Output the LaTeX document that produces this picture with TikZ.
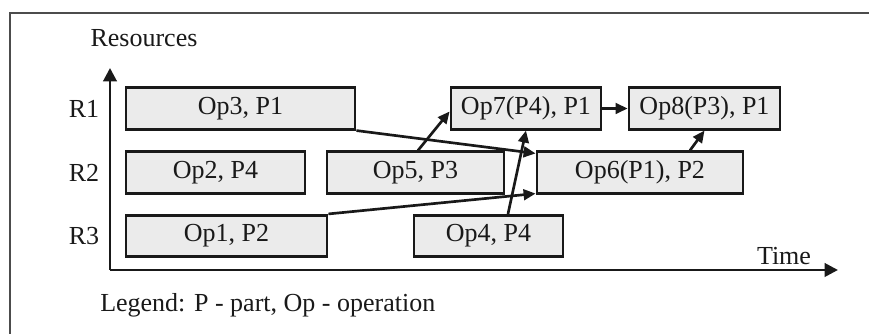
\documentclass[tikz,border=0pt]{standalone}
\usepackage{fontspec}
\setmainfont{Liberation Serif}
\usetikzlibrary{arrows.meta,calc}
\begin{document}
\begin{tikzpicture}[x=0.75pt,y=-0.75pt,
  every node/.style={font=\fontsize{19.5}{22}\selectfont, text=black!90},
  opbox/.style={draw=black!90, fill=gray!16, line width=2.1pt, inner sep=0pt, minimum height=31pt},
  link/.style={line width=2pt, draw=black!90, -{Triangle[length=9pt,width=8pt]}},
  axis/.style={line width=2.1pt, draw=black!90, -{Triangle[length=10pt,width=10pt]}},
  lbl/.style={inner sep=0pt}]
\useasboundingbox (0,0) rectangle (869,334);
\draw[line width=1.5pt, draw=black!70] (10,334) -- (10,13) -- (869,13);
% axes
\coordinate (origin) at (110,270);
\coordinate (ytip) at (110,68);
\coordinate (xtip) at (838,270);
\draw[axis] (origin) -- (ytip);
\draw[axis] (origin) -- (xtip);
% labels
\node[lbl] (res) at (144,38) {Resources};
\node[lbl] (r1) at (84,109) {R1};
\node[lbl] (r2) at (84,173) {R2};
\node[lbl] (r3) at (84,236) {R3};
\node[lbl] (time) at (784,256) {Time};
\node[lbl, anchor=west] (legend) at (100,305) {Legend: P - part, Op - operation};
% boxes
\node[opbox, minimum width=171.75pt] (op3) at (240.5,108.5) {Op3, P1};
\node[opbox, minimum width=134.25pt] (op2) at (215.5,172.5) {Op2, P4};
\node[opbox, minimum width=150.75pt] (op1) at (226.5,236) {Op1, P2};
\node[opbox, minimum width=132.75pt] (op5) at (415.5,172.5) {Op5, P3};
\node[opbox, minimum width=154.5pt] (op6) at (640,172.5) {Op6(P1), P2};
\node[opbox, minimum width=111.75pt] (op4) at (488.5,236) {Op4, P4};
\node[opbox, minimum width=112.5pt] (op7) at (526,108.5) {Op7(P4), P1};
\node[opbox, minimum width=113.25pt] (op8) at (704.5,108.5) {Op8(P3), P1};
% connectors
\draw[link] (op3.south east) -- ($(op6.north west)+(0,3)$);
\draw[link] (op1.north east) -- ($(op6.south west)+(0,-1)$);
\draw[link] ($(op5.north)+(2.5,0)$) -- ($(op7.west)+(0,3)$);
\draw[link] ($(op4.north)+(19.5,0)$) -- (op7.south);
\draw[link] (op7.east) -- (op8.west);
\draw[link] ($(op6.north)+(50,0)$) -- (op8.south);
\end{tikzpicture}
\end{document}
